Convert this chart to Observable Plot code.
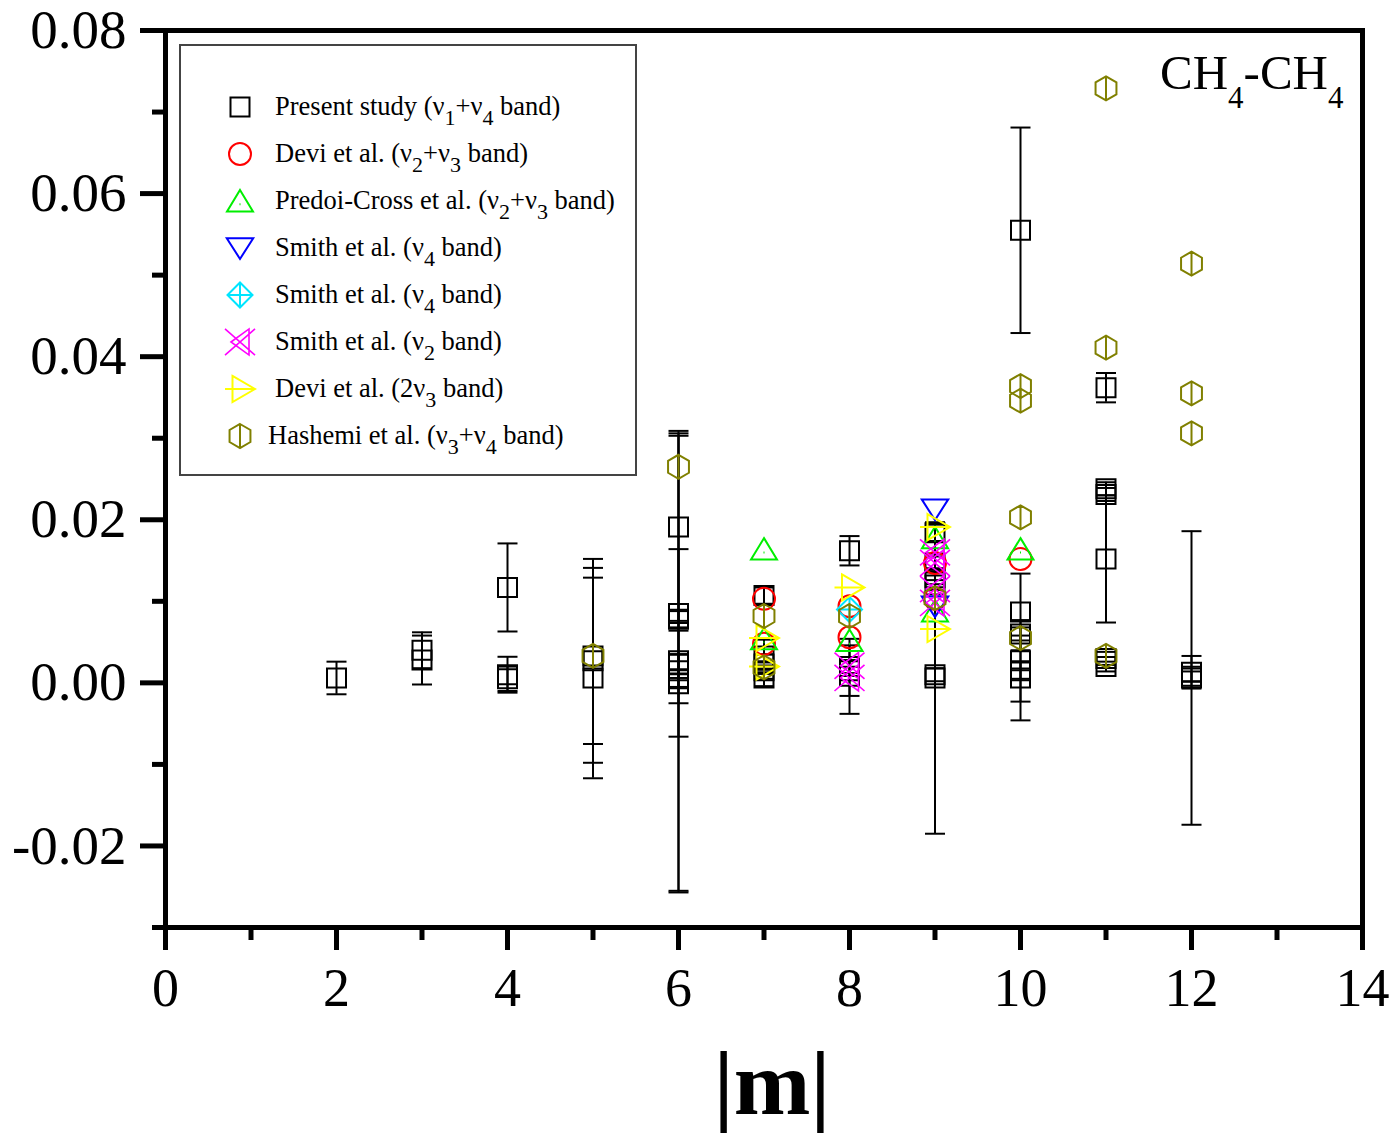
<!DOCTYPE html>
<html>
<head>
<meta charset="utf-8">
<script src="https://cdn.jsdelivr.net/npm/d3@7"></script>
<script src="https://cdn.jsdelivr.net/npm/@observablehq/plot@0.6"></script>
<style>
  html, body { margin: 0; padding: 0; background: #ffffff; }
  #wrap { position: relative; width: 1397px; height: 1139px; background: #ffffff; font-family: "Liberation Serif", "Times New Roman", serif; }
  #wrap > svg { position: absolute; left: 0; top: 0; }
</style>
</head>
<body>
<div id="wrap"></div>
<script>
// ---------- DATA ----------
// Present study (v1+v4 band): [|m|, value, error]
const present = [
  [2, 0.0006, 0.0020],
  [3, 0.0040, 0.0022], [3, 0.0028, 0.0030],
  [4, 0.0117, 0.0054], [4, 0.0010, 0.0022], [4, 0.0005, 0.0015],
  [5, 0.0033, 0.0108], [5, 0.0027, 0.0125], [5, 0.0006, 0.0123],
  [6, 0.0191, 0.0115], [6, 0.0085, 0.0079], [6, 0.0078, 0.0010], [6, 0.0027, 0.0282],
  [6, 0.0023, 0.0280], [6, 0.0015, 0.0020], [6, 0.0005, 0.0030], [6, -0.0001, 0.0065],
  [7, 0.0107, 0.0010], [7, 0.0033, 0.0020], [7, 0.0023, 0.0012], [7, 0.0015, 0.0010], [7, 0.0006, 0.0010],
  [8, 0.0162, 0.0018], [8, 0.0020, 0.0008], [8, 0.0015, 0.0031], [8, 0.0008, 0.0046],
  [9, 0.0184, 0.0010], [9, 0.0147, 0.0008], [9, 0.0129, 0.0008], [9, 0.0120, 0.0006],
  [9, 0.0010, 0.0008], [9, 0.0006, 0.0191],
  [10, 0.0555, 0.0126], [10, 0.0087, 0.0047], [10, 0.0060, 0.0008], [10, 0.0027, 0.0050],
  [10, 0.0015, 0.0010], [10, 0.0006, 0.0052],
  [11, 0.0362, 0.0018], [11, 0.0238, 0.0008], [11, 0.0231, 0.0008], [11, 0.0152, 0.0078],
  [11, 0.0030, 0.0008], [11, 0.0020, 0.0006],
  [12, 0.0013, 0.0020], [12, 0.0008, 0.0006], [12, 0.0006, 0.0180]
];
// Devi et al. (v2+v3 band): [|m|, value]
const deviV2V3 = [[7, 0.0103], [7, 0.0048], [8, 0.0094], [8, 0.0056], [9, 0.0147], [9, 0.0103], [10, 0.0152]];
// Predoi-Cross et al. (v2+v3 band)
const predoiCross = [[7, 0.0164], [7, 0.0054], [8, 0.0052], [9, 0.0178], [9, 0.0088], [10, 0.0164]];
// Smith et al. (v4 band) - blue
const smithV4a = [[9, 0.0213], [9, 0.0094]];
// Smith et al. (v4 band) - cyan
const smithV4b = [[8, 0.0090]];
// Smith et al. (v2 band)
const smithV2 = [[8, 0.0021], [8, 0.0006], [9, 0.0160], [9, 0.0147], [9, 0.0115], [9, 0.0098]];
// Devi et al. (2v3 band)
const devi2V3 = [[7, 0.0055], [7, 0.0020], [8, 0.0117], [9, 0.0191], [9, 0.0066]];
// Hashemi et al. (v3+v4 band)
const hashemi = [[5, 0.0033], [6, 0.0265], [7, 0.0082], [7, 0.0019], [8, 0.0082], [9, 0.0104],
  [10, 0.0364], [10, 0.0346], [10, 0.0203], [10, 0.0055],
  [11, 0.0729], [11, 0.0411], [11, 0.0033],
  [12, 0.0514], [12, 0.0355], [12, 0.0306]];

// Ticks and labels
const xTicks = [0, 2, 4, 6, 8, 10, 12, 14];
const xMinorTicks = [1, 3, 5, 7, 9, 11, 13];
const yTicks = [-0.02, 0, 0.02, 0.04, 0.06, 0.08];
const yTickLabels = ["-0.02", "0.00", "0.02", "0.04", "0.06", "0.08"];
const yMinorTicks = [-0.03, -0.01, 0.01, 0.03, 0.05, 0.07];
const legendLabels = [
  "Present study (ν_1+ν_4 band)",
  "Devi et al. (ν_2+ν_3 band)",
  "Predoi-Cross et al. (ν_2+ν_3 band)",
  "Smith et al. (ν_4 band)",
  "Smith et al. (ν_4 band)",
  "Smith et al. (ν_2 band)",
  "Devi et al. (2ν_3 band)",
  "Hashemi et al. (ν_3+ν_4 band)"
];
const xTitle = "|m|";

// ---------- SYMBOLS ----------
const R = s => Math.sqrt(s / Math.PI);
const sym = {
  square: { draw(c, s) { const r = R(s); c.rect(-r, -r, 2 * r, 2 * r); } },
  circle: { draw(c, s) { const r = R(s); c.moveTo(r, 0); c.arc(0, 0, r, 0, 2 * Math.PI); } },
  triUp: { draw(c, s) { const r = R(s);
    c.moveTo(0, -r); c.lineTo(1.18 * r, 0.95 * r); c.lineTo(-1.18 * r, 0.95 * r); c.closePath();
    c.moveTo(-0.5, 0.3 * r); c.lineTo(0.5, 0.3 * r); } },
  triDown: { draw(c, s) { const r = R(s);
    c.moveTo(-1.15 * r, -0.85 * r); c.lineTo(1.15 * r, -0.85 * r); c.lineTo(0, 0.95 * r); c.closePath(); } },
  diamondPlus: { draw(c, s) { const r = R(s);
    c.moveTo(0, -r); c.lineTo(r, 0); c.lineTo(0, r); c.lineTo(-r, 0); c.closePath();
    c.moveTo(0, -r); c.lineTo(0, r); c.moveTo(-r, 0); c.lineTo(r, 0); } },
  xTri: { draw(c, s) { const r = R(s);
    c.moveTo(-r, -0.87 * r); c.lineTo(r, 0.87 * r); c.moveTo(-r, 0.87 * r); c.lineTo(r, -0.87 * r);
    c.moveTo(-0.6 * r, 0); c.lineTo(0.6 * r, -0.87 * r); c.lineTo(0.6 * r, 0.87 * r); c.closePath(); } },
  triRight: { draw(c, s) { const r = R(s);
    c.moveTo(-r, 0); c.lineTo(r, 0);
    c.moveTo(-0.5 * r, -0.87 * r); c.lineTo(r, 0); c.lineTo(-0.5 * r, 0.87 * r); c.closePath(); } },
  hexLine: { draw(c, s) { const r = R(s), w = 0.87 * r;
    c.moveTo(0, -r); c.lineTo(w, -0.5 * r); c.lineTo(w, 0.5 * r); c.lineTo(0, r);
    c.lineTo(-w, 0.5 * r); c.lineTo(-w, -0.5 * r); c.closePath();
    c.moveTo(0, -r); c.lineTo(0, r); } },
  cap: { draw(c, s) { const r = R(s); c.moveTo(-r, 0); c.lineTo(r, 0); } }
};

const series = [
  { data: present, symbol: sym.square, r: 9.5, color: "#000000", sw: 2 },
  { data: deviV2V3, symbol: sym.circle, r: 11, color: "#ff0000", sw: 2 },
  { data: predoiCross, symbol: sym.triUp, r: 11, color: "#00ee00", sw: 2 },
  { data: smithV4a, symbol: sym.triDown, r: 11.5, color: "#0000ff", sw: 2 },
  { data: smithV4b, symbol: sym.diamondPlus, r: 12.5, color: "#00e5ff", sw: 2 },
  { data: smithV2, symbol: sym.xTri, r: 15, color: "#ff00ff", sw: 1.6 },
  { data: devi2V3, symbol: sym.triRight, r: 15, color: "#ffff00", sw: 2 },
  { data: hashemi, symbol: sym.hexLine, r: 12, color: "#808000", sw: 2 }
];

// ---------- PLOT ----------
const font = "Liberation Serif";
const chart = Plot.plot({
  width: 1397,
  height: 1139,
  marginLeft: 165, marginRight: 35, marginTop: 30, marginBottom: 212,
  style: { background: "transparent", fontFamily: font, color: "#000" },
  x: { domain: [0, 14] },
  y: { domain: [-0.03, 0.08] },
  marks: [
    Plot.ruleX(present, { x: d => d[0], y1: d => d[1] - d[2], y2: d => d[1] + d[2], stroke: "#000", strokeWidth: 2 }),
    Plot.dot(present, { x: d => d[0], y: d => d[1] + d[2], symbol: sym.cap, r: 10, stroke: "#000", strokeWidth: 2 }),
    Plot.dot(present, { x: d => d[0], y: d => d[1] - d[2], symbol: sym.cap, r: 10, stroke: "#000", strokeWidth: 2 }),
    ...series.map(s => Plot.dot(s.data, { x: d => d[0], y: d => d[1], symbol: s.symbol, r: s.r, stroke: s.color, strokeWidth: s.sw, fill: "none" })),
    Plot.axisY(yMinorTicks, { tickSize: 13, strokeWidth: 5, tickFormat: () => "", label: null }),
    Plot.axisY(yTicks, { tickSize: 25, strokeWidth: 5, tickPadding: 14, fontSize: 55, fontFamily: font,
      tickFormat: d => yTickLabels[yTicks.indexOf(d)], label: null }),
    Plot.axisX(xMinorTicks, { tickSize: 13, strokeWidth: 5, tickFormat: () => "", label: null }),
    Plot.axisX(xTicks, { tickSize: 23, strokeWidth: 5, tickPadding: 17, fontSize: 54, fontFamily: font,
      tickFormat: d => String(d), label: null }),
    Plot.frame({ stroke: "#000", strokeWidth: 5 })
  ]
});
document.getElementById("wrap").appendChild(chart);

// ---------- OVERLAY: legend, annotation, axis title ----------
const ov = d3.select("#wrap").append("svg")
  .attr("width", 1397).attr("height", 1139)
  .style("pointer-events", "none")
  .attr("font-family", font);

function addRich(g, str, x, y, size, subSize, shift) {
  const t = g.append("text").attr("x", x).attr("y", y).attr("font-size", size).attr("fill", "#000");
  const parts = [];
  let buf = "";
  for (let i = 0; i < str.length; i++) {
    if (str[i] === "_") { if (buf) parts.push([buf, false]); buf = ""; parts.push([str[i + 1], true]); i++; }
    else buf += str[i];
  }
  if (buf) parts.push([buf, false]);
  let cur = 0;
  for (const [txt, sub] of parts) {
    const target = sub ? shift : 0;
    t.append("tspan").attr("dy", target - cur).attr("font-size", sub ? subSize : size).text(txt);
    cur = target;
  }
  return t;
}

// legend box
ov.append("rect").attr("x", 180).attr("y", 45).attr("width", 456).attr("height", 430)
  .attr("fill", "none").attr("stroke", "#444").attr("stroke-width", 2);
series.forEach((s, i) => {
  const cy = 107 + i * 47;
  ov.append("path")
    .attr("transform", `translate(240,${cy})`)
    .attr("d", d3.symbol(s.symbol, s.r * s.r * Math.PI)())
    .attr("fill", "none").attr("stroke", s.color).attr("stroke-width", s.sw);
  addRich(ov, legendLabels[i], i === 7 ? 268 : 275, cy + 8, 26.5, 22, 10);
});

// CH4-CH4 annotation
addRich(ov, "CH_4-CH_4", 1160, 89, 49, 31, 19);

// x axis title
ov.append("text").attr("x", 772).attr("y", 1114).attr("text-anchor", "middle")
  .attr("font-size", 92).attr("font-weight", "bold").attr("fill", "#000").text(xTitle);
</script>
</body>
</html>
